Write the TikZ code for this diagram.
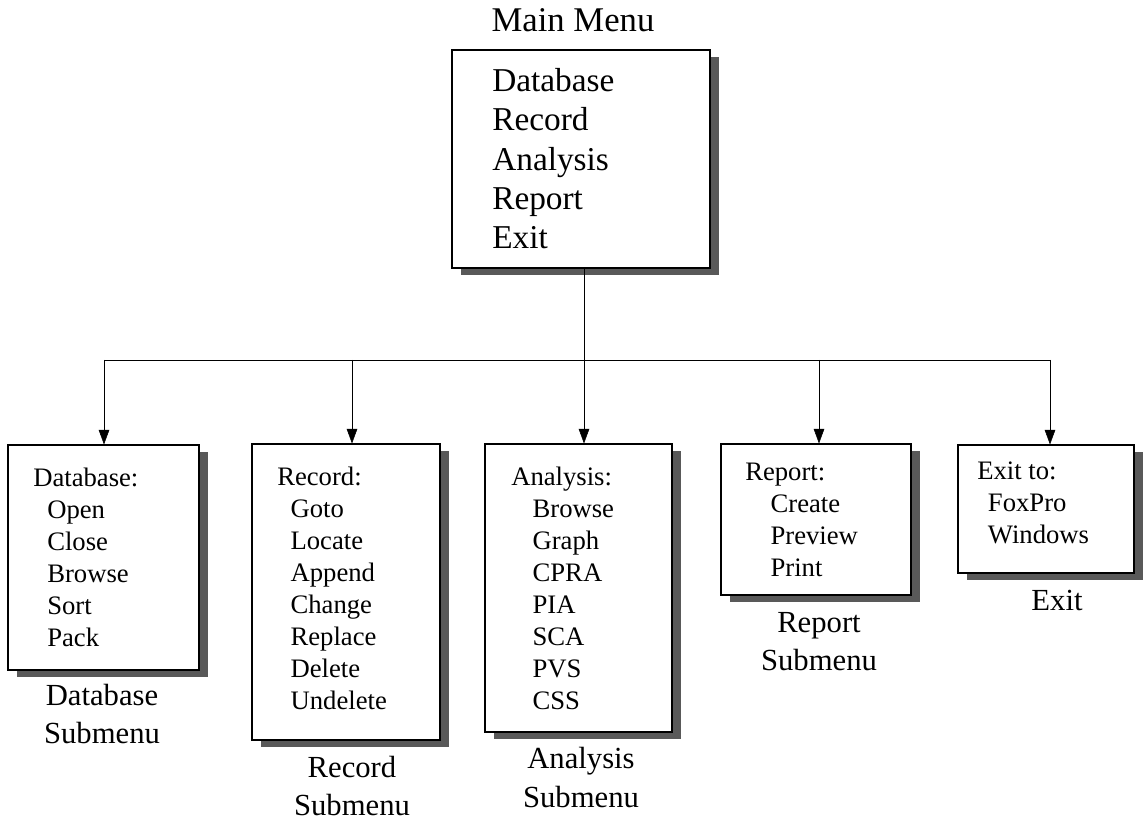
\documentclass[tikz,border=0pt]{standalone}
\usepackage{fontspec}
\setmainfont{Liberation Serif}
\usetikzlibrary{arrows.meta,shadows}

\begin{document}
\begin{tikzpicture}[x=0.75pt, y=-0.75pt, >={Triangle[length=11pt,width=8pt]}]
        \tikzstyle{menu}=[draw, fill=white, line width=0.8pt, drop shadow={shadow xshift=7pt, shadow yshift=-5pt, fill=black!65, opacity=1}]
        \tikzstyle{items}=[anchor=north west, inner sep=0pt, align=left, font=\fontsize{20}{24}\selectfont]
        \tikzstyle{caption}=[align=center, font=\fontsize{23}{29}\selectfont]

        \useasboundingbox (0,0) rectangle (1143,823);

        % main menu
        \node[caption, font=\fontsize{26}{30}\selectfont](title) at (573,20){Main Menu};
        \node[menu, minimum width=193.5pt, minimum height=163.5pt](main) at (581,159){};
        \node[items, font=\fontsize{25}{29.5}\selectfont](mainitems) at (492,68){Database\\Record\\Analysis\\Report\\Exit};

        % submenus
        \node[menu, minimum width=143.25pt, minimum height=168.75pt](db) at (103.5,557.5){};
        \node[items](dbitems) at (33,468){Database:\\\hspace*{10.5pt}Open\\\hspace*{10.5pt}Close\\\hspace*{10.5pt}Browse\\\hspace*{10.5pt}Sort\\\hspace*{10.5pt}Pack};
        \node[caption](dblabel) at (102,714){Database\\Submenu};

        \node[menu, minimum width=141pt, minimum height=222pt](rec) at (346,592){};
        \node[items](recitems) at (277,467){Record:\\\hspace*{10pt}Goto\\\hspace*{10pt}Locate\\\hspace*{10pt}Append\\\hspace*{10pt}Change\\\hspace*{10pt}Replace\\\hspace*{10pt}Delete\\\hspace*{10pt}Undelete};
        \node[caption](reclabel) at (352,786){Record\\Submenu};

        \node[menu, minimum width=140.25pt, minimum height=216pt](ana) at (578.5,588){};
        \node[items](anaitems) at (511,467){Analysis:\\\hspace*{16pt}Browse\\\hspace*{16pt}Graph\\\hspace*{16pt}CPRA\\\hspace*{16pt}PIA\\\hspace*{16pt}SCA\\\hspace*{16pt}PVS\\\hspace*{16pt}CSS};
        \node[caption](analabel) at (581,777.5){Analysis\\Submenu};

        \node[menu, minimum width=142.5pt, minimum height=113.25pt](rep) at (816,519.5){};
        \node[items](repitems) at (745,463){Report:\\\hspace*{19pt}Create\\\hspace*{19pt}Preview\\\hspace*{19pt}Print};
        \node[caption](replabel) at (819,641.5){Report\\Submenu};

        \node[menu, minimum width=132pt, minimum height=96pt](ext) at (1046,509){};
        \node[items](extitems) at (977,462){Exit to:\\\hspace*{8pt}FoxPro\\\hspace*{8pt}Windows};
        \node[caption](extlabel) at (1057,600){Exit};

        % connectors
        \coordinate (split) at (584,360);
        \coordinate (b1) at (104,360);
        \coordinate (b2) at (352,360);
        \coordinate (b4) at (819,360);
        \coordinate (b5) at (1050,360);

        \draw (main.south -| split) -- (split);
        \draw (b1) -- (b5);
        \draw[->] (b1) -- (b1 |- db.north);
        \draw[->] (b2) -- (b2 |- rec.north);
        \draw[->] (split) -- (split |- ana.north);
        \draw[->] (b4) -- (b4 |- rep.north);
        \draw[->] (b5) -- (b5 |- ext.north);

        \end{tikzpicture}
\end{document}
